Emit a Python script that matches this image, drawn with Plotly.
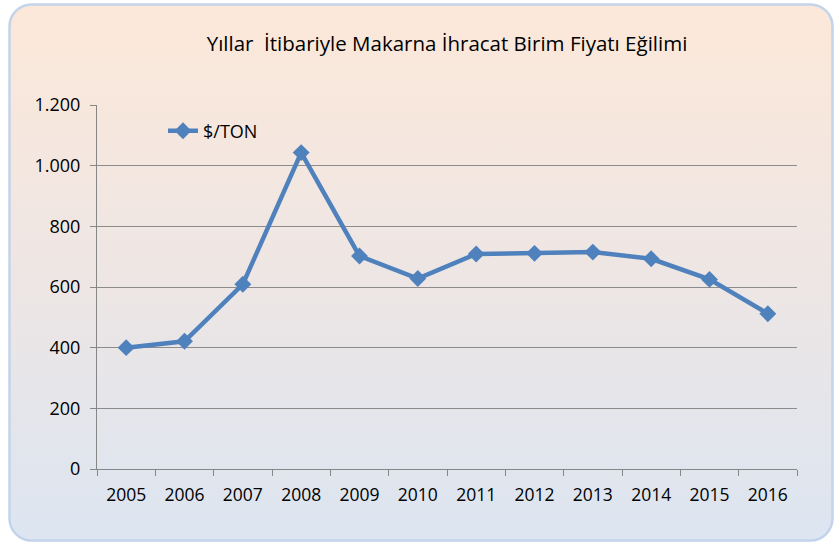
import base64
import plotly.graph_objects as go

years = ["2005", "2006", "2007", "2008", "2009", "2010", "2011", "2012", "2013", "2014", "2015", "2016"]
usd_per_ton = [400, 421, 609, 1043, 702, 628, 709, 711, 715, 693, 625, 512]
y_tick_vals = [0, 200, 400, 600, 800, 1000, 1200]
y_tick_text = ["0", "200", "400", "600", "800", "1.000", "1.200"]
series_name = "$/TON"
title_text = "Yıllar  İtibariyle Makarna İhracat Birim Fiyatı Eğilimi"

W, H = 834, 543
FONT = "Open Sans, sans-serif"

svg = f'''<svg xmlns="http://www.w3.org/2000/svg" width="{W}" height="{H}" viewBox="0 0 {W} {H}">
<defs><linearGradient id="g" x1="0" y1="0" x2="0" y2="1">
<stop offset="0" stop-color="#FCE8D9"/><stop offset="0.5" stop-color="#EEE6E4"/><stop offset="1" stop-color="#DCE5F1"/></linearGradient></defs>
<rect x="9.5" y="4.5" width="823" height="536" rx="22" ry="22" fill="url(#g)" stroke="#C3D4EA" stroke-width="2.5"/>
</svg>'''
src = "data:image/svg+xml;base64," + base64.b64encode(svg.encode()).decode()

fig = go.Figure()
fig.add_trace(go.Scatter(
    x=years, y=usd_per_ton, name=series_name, mode="lines+markers",
    line=dict(color="#4F81BD", width=4.5),
    marker=dict(symbol="diamond", size=13, color="#4F81BD"),
    showlegend=True,
))

x0, x1 = 97, 797
y0, y1 = 105, 469
fig.update_layout(
    width=W, height=H,
    margin=dict(l=0, r=0, t=0, b=0, pad=0),
    paper_bgcolor="white",
    plot_bgcolor="rgba(0,0,0,0)",
    font=dict(family=FONT, size=18, color="#000000"),
    title=dict(text=title_text, x=447 / W, xanchor="center", y=1 - 44 / H, yanchor="middle",
               font=dict(family=FONT, size=20.5, color="#000000")),
    images=[dict(source=src, xref="paper", yref="paper", x=0, y=1, sizex=1, sizey=1,
                 xanchor="left", yanchor="top", sizing="stretch", layer="below")],
    xaxis=dict(domain=[x0 / W, x1 / W], type="category", tickson="boundaries",
               range=[-0.5, len(years) - 0.5], automargin=False,
               showgrid=False, showline=True, linecolor="#868686", linewidth=1,
               ticks="outside", ticklen=6, tickcolor="#868686",
               tickfont=dict(family=FONT, size=17.5, color="#000000"), ticklabelstandoff=10),
    yaxis=dict(domain=[1 - y1 / H, 1 - y0 / H], range=[0, 1200], automargin=False,
               tickvals=y_tick_vals, ticktext=y_tick_text,
               showgrid=True, gridcolor="#8C8C8C", gridwidth=1, zeroline=False,
               showline=True, linecolor="#868686", linewidth=1,
               ticks="outside", ticklen=6, tickcolor="#868686",
               tickfont=dict(family=FONT, size=18, color="#000000"), ticklabelstandoff=6),
    legend=dict(x=163 / W, y=1 - 131 / H, xanchor="left", yanchor="middle",
                bgcolor="rgba(0,0,0,0)", font=dict(family=FONT, size=18, color="#000000")),
)

fig.write_html("out.html", config={"displayModeBar": False},
               post_script="document.body.style.margin='0';")
